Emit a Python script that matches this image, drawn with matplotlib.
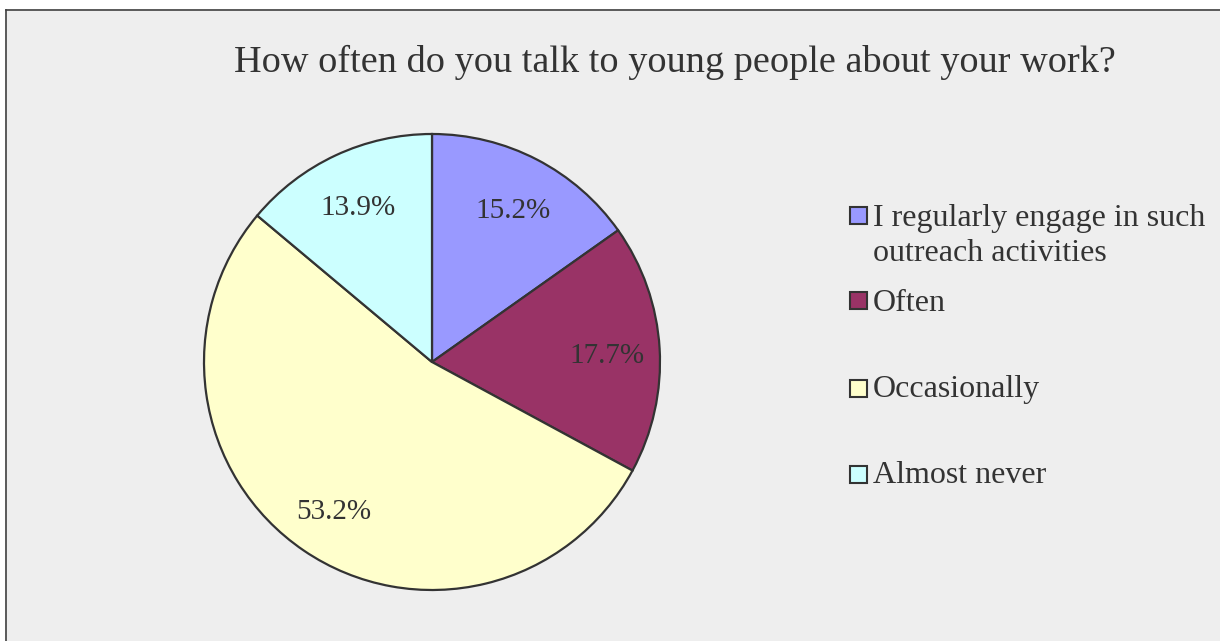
import matplotlib
matplotlib.use("Agg")
import matplotlib.pyplot as plt
import matplotlib.transforms as mtransforms
from matplotlib.patches import Rectangle
from matplotlib.lines import Line2D

title = "How often do you talk to young people about your work?"
categories = ["I regularly engage in such\noutreach activities", "Often", "Occasionally", "Almost never"]
values = [15.2, 17.7, 53.2, 13.9]
colors = ["#9999FF", "#993366", "#FFFFCC", "#CCFFFF"]

W, H = 1220, 641
fig = plt.figure(figsize=(W / 100, H / 100), dpi=100)
fig.patch.set_facecolor("white")
plt.rcParams['font.family'] = ['Liberation Serif', 'DejaVu Serif']
txt_color = "#333333"

def fx(x):
    return x / W

def fy(y):
    return 1 - y / H

# background panel with frame
fig.add_artist(Rectangle((fx(5), 0), 1 - fx(5), fy(9), transform=fig.transFigure,
                         facecolor="#EEEEEE", edgecolor="none", zorder=0))
fig.add_artist(Line2D([fx(5.5), fx(5.5)], [0, fy(9.5)], transform=fig.transFigure,
                      color="#404040", lw=1.2, zorder=1))
fig.add_artist(Line2D([fx(5.5), 1], [fy(9.5), fy(9.5)], transform=fig.transFigure,
                      color="#404040", lw=1.2, zorder=1))

# pie
cx, cy, r = 432, 362, 228
ax = fig.add_axes([fx(cx - r), fy(cy + r), 2 * r / W, 2 * r / H])
ax.set_facecolor("none")
wedges, texts, autotexts = ax.pie(
    values, colors=colors, startangle=90, counterclock=False,
    autopct="%.1f%%", pctdistance=0.77,
    wedgeprops=dict(edgecolor="#333333", linewidth=1.6),
    textprops=dict(fontsize=21, color=txt_color),
)
shift = mtransforms.offset_copy(ax.transData, fig=fig, x=0, y=-3.5, units="points")
for t in autotexts:
    t.set_transform(shift)
ax.set_xlim(-1, 1)
ax.set_ylim(-1, 1)
ax.set_aspect("auto")
ax.axis("off")

# title
fig.text(fx(674.5), fy(72), title, ha="center", va="baseline",
         fontsize=27.5, color=txt_color)

# legend (manual)
sq = 17
square_centers = [215, 301, 388, 474]
baselines = [226, 310.7, 396.7, 483.3]
for lab, col, sc, bl in zip(categories, colors, square_centers, baselines):
    fig.add_artist(Rectangle((fx(858 - sq / 2), fy(sc + sq / 2)), sq / W, sq / H,
                             transform=fig.transFigure, facecolor=col,
                             edgecolor="#333333", linewidth=1.5, zorder=3))
    lines = lab.split("\n")
    for i, ln in enumerate(lines):
        fig.text(fx(873), fy(bl + i * 34.7), ln, ha="left", va="baseline",
                 fontsize=23, color=txt_color)

fig.savefig("out.png", dpi=100, facecolor=fig.get_facecolor())
